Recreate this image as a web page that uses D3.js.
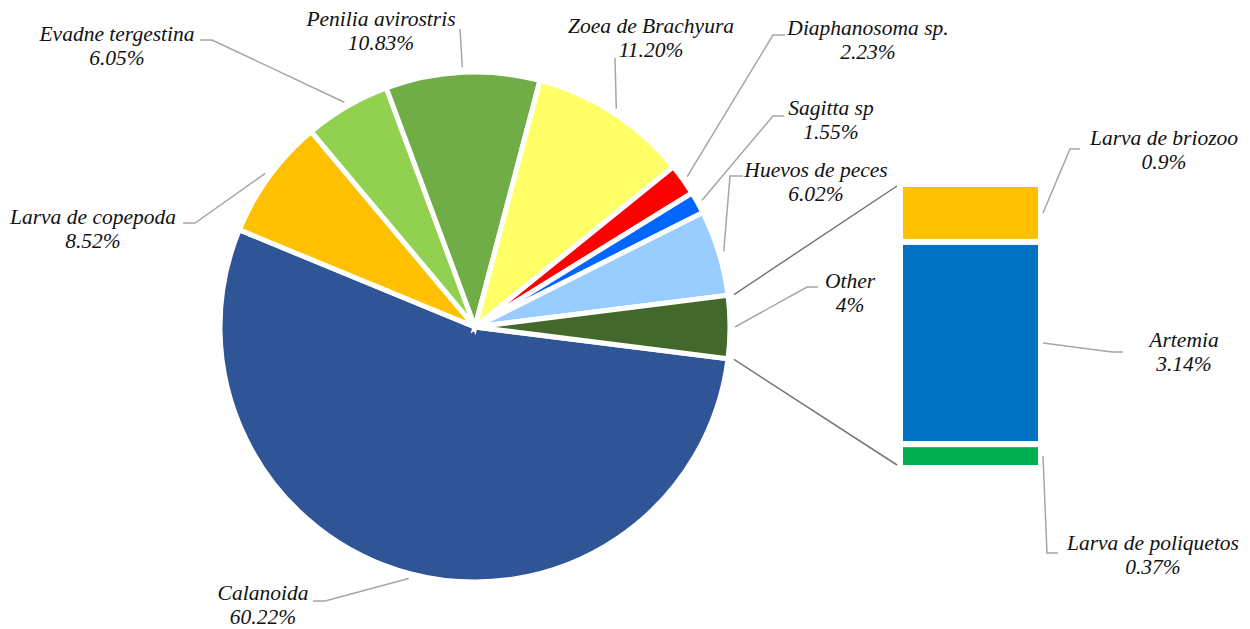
<!DOCTYPE html>
<html><head><meta charset="utf-8">
<script src="https://cdn.jsdelivr.net/npm/d3@7"></script>
</head>
<body style="margin:0;background:#fff"><svg id="c" width="1250" height="629" style="display:block;font-family:'Liberation Serif'"></svg>
<script>
// ---- data ----
const barCategories = ["Larva de briozoo", "Artemia", "Larva de poliquetos"];
const barValues = [0.9, 3.14, 0.37];
const barPctLabels = ["0.9%", "3.14%", "0.37%"];

const categories = ["Calanoida", "Larva de copepoda", "Evadne tergestina", "Penilia avirostris",
  "Zoea de Brachyura", "Diaphanosoma sp.", "Sagitta sp", "Huevos de peces", "Other"];
const values = [60.22, 8.52, 6.05, 10.83, 11.20, 2.23, 1.55, 6.02, d3.sum(barValues)];
const pctLabels = ["60.22%", "8.52%", "6.05%", "10.83%", "11.20%", "2.23%", "1.55%", "6.02%", "4%"];

// ---- styles ----
const pieColors = ["#2F5597", "#FFC000", "#92D050", "#70AD47", "#FFFF66", "#FF0000", "#0066FF", "#99CCFF", "#43682B"];
const barColors = ["#FFC000", "#0070C0", "#00B050"];

// ---- layout ----
const cx = 475, cy = 327, R = 255;
const barX0 = 900, barX1 = 1041, barY0 = 184, barY1 = 468;
const pieLabelLayout = {
  "Calanoida": {x: 263, y: 600, hook: [[313, 601], [325, 601]]},
  "Larva de copepoda": {x: 93, y: 224, hook: [[183, 223], [195, 223]]},
  "Evadne tergestina": {x: 117, y: 41, hook: [[200, 40], [212, 40]]},
  "Penilia avirostris": {x: 381, y: 26, hook: [[460, 29]]},
  "Zoea de Brachyura": {x: 651, y: 33, hook: [[615, 58]]},
  "Diaphanosoma sp.": {x: 868, y: 35, hook: [[785, 35], [773, 35]]},
  "Sagitta sp": {x: 831, y: 115, hook: [[784, 116], [773, 116]]},
  "Huevos de peces": {x: 816, y: 177, hook: [[743, 176], [730, 176]]},
  "Other": {x: 850, y: 288, hook: [[818, 287], [807, 287]]}
};
const barLabelLayout = {
  "Larva de briozoo": {x: 1164, y: 145, hook: [[1080, 149], [1070, 149]]},
  "Artemia": {x: 1184, y: 347, hook: [[1123, 352], [1112, 352]]},
  "Larva de poliquetos": {x: 1153, y: 550, hook: [[1058, 553], [1047, 553]]}
};

const svg = d3.select("#c");
const total = d3.sum(values);
const otherAngle = 2 * Math.PI * values[values.length - 1] / total;
const start = Math.PI / 2 + otherAngle / 2;
const pie = d3.pie().sort(null).value(d => d).startAngle(start).endAngle(start + 2 * Math.PI);
const arcs = pie(values);
const arc = d3.arc().innerRadius(0).outerRadius(R);

const g = svg.append("g").attr("transform", `translate(${cx},${cy})`);
g.selectAll("path").data(arcs).join("path")
  .attr("d", arc)
  .attr("fill", (d, i) => pieColors[i])
  .attr("stroke", "#fff").attr("stroke-width", 5).attr("stroke-linejoin", "miter");

// bar of pie
const yScale = d3.scaleLinear().domain([0, d3.sum(barValues)]).range([barY0, barY1]);
const stacked = [];
let acc = 0;
barValues.forEach((v, i) => { stacked.push({i, y0: acc, y1: acc + v}); acc += v; });
svg.selectAll("rect.bar").data(stacked).join("rect").attr("class", "bar")
  .attr("x", barX0).attr("width", barX1 - barX0)
  .attr("y", d => yScale(d.y0)).attr("height", d => yScale(d.y1) - yScale(d.y0))
  .attr("fill", d => barColors[d.i])
  .attr("stroke", "#fff").attr("stroke-width", 6);

// series lines connecting the Other slice to the bar
const oth = arcs[arcs.length - 1];
const pt = (a, r) => [cx + r * Math.sin(a), cy - r * Math.cos(a)];
const connectors = [
  [pt(oth.startAngle, R + 6), [barX0 - 3, yScale(0) + 2]],
  [pt(oth.endAngle, R + 6), [barX0 - 3, yScale(d3.sum(barValues)) - 3]]
];
svg.selectAll("line.conn").data(connectors).join("line").attr("class", "conn")
  .attr("x1", d => d[0][0]).attr("y1", d => d[0][1])
  .attr("x2", d => d[1][0]).attr("y2", d => d[1][1])
  .attr("stroke", "#767676").attr("stroke-width", 1.5);

const lineGen = d3.line();

function addLine(x, y, s) {
  svg.append("text").attr("x", x).attr("y", y)
    .attr("text-anchor", "middle")
    .style("font-family", "Liberation Serif")
    .style("font-style", "italic")
    .style("font-size", "21.5px")
    .style("fill", "#111")
    .text(s);
}
function drawLabel(name, pct, lay, end) {
  const pts = lay.hook.concat([end]);
  svg.append("path").attr("d", lineGen(pts)).attr("fill", "none")
    .attr("stroke", "#A6A6A6").attr("stroke-width", 1.5);
  addLine(lay.x, lay.y, name);
  addLine(lay.x, lay.y + 24, pct);
}

arcs.forEach((a, i) => {
  const mid = (a.startAngle + a.endAngle) / 2;
  drawLabel(categories[i], pctLabels[i], pieLabelLayout[categories[i]], pt(mid, R + 5));
});
stacked.forEach((s, i) => {
  const end = [barX1 + 2, (yScale(s.y0) + yScale(s.y1)) / 2];
  drawLabel(barCategories[i], barPctLabels[i], barLabelLayout[barCategories[i]], end);
});
</script>
</body></html>
